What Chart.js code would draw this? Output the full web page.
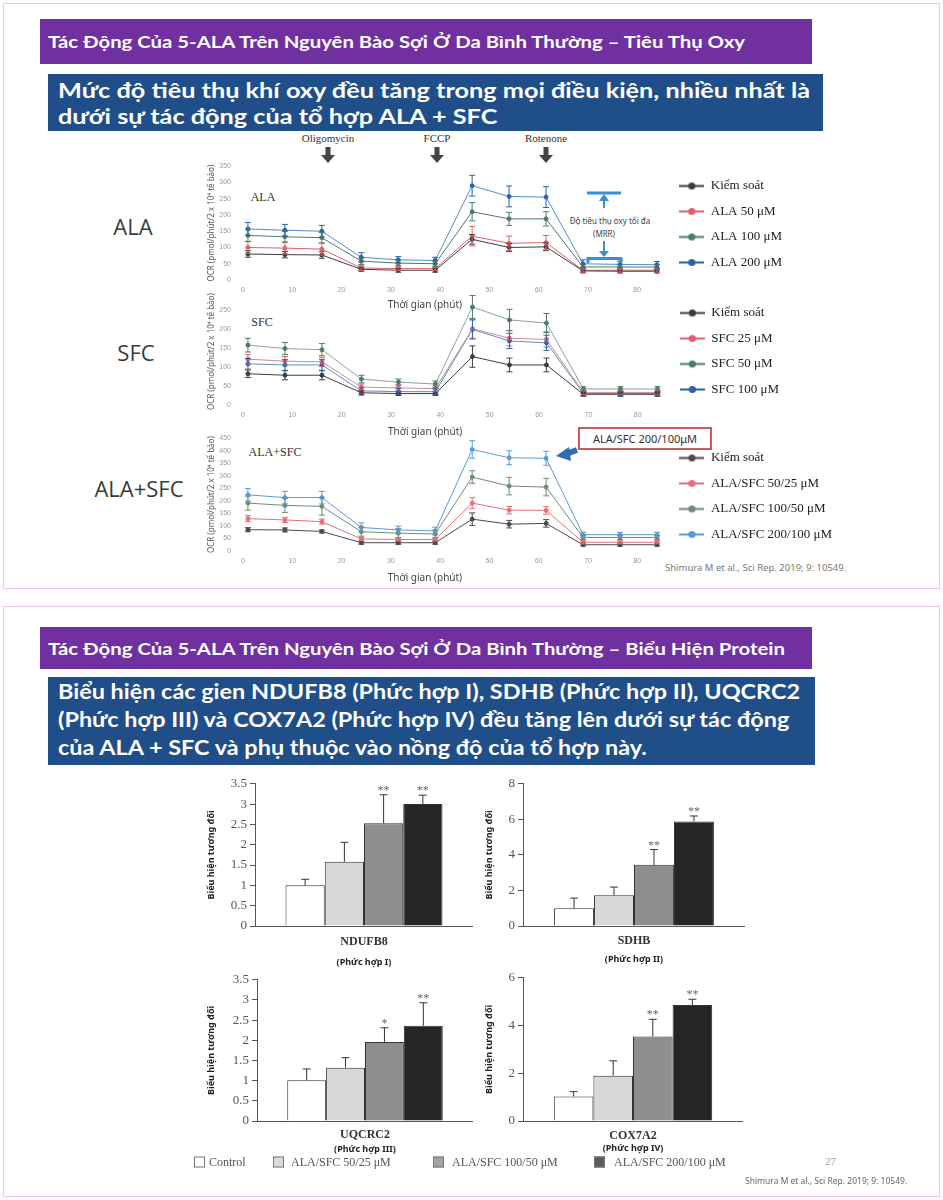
<!DOCTYPE html>
<html><head><meta charset="utf-8">
<script src="https://cdn.jsdelivr.net/npm/chart.js@4.4.1/dist/chart.umd.min.js"></script>
<style>
body{margin:0;background:#fff;width:943px;height:1200px;position:relative;overflow:hidden;font-family:Lato,"Noto Sans",sans-serif;}
.abs{position:absolute;}
.slide{position:absolute;border:1px solid #eec6ef;box-sizing:border-box;}
.purple{position:absolute;background:#7030a0;color:#fff;font-weight:bold;font-size:17px;white-space:nowrap;display:flex;align-items:center;}
.blue{position:absolute;background:#1f4e89;color:#fff;font-weight:bold;white-space:nowrap;}
.fit{display:inline-block;transform-origin:left center;white-space:nowrap;}
.side{position:absolute;font-family:"Open Sans",sans-serif;font-size:22px;color:#3a3a3a;transform:translate(-50%,-50%);white-space:nowrap;}
.ser{position:absolute;font-family:"Liberation Serif",serif;color:#333;white-space:nowrap;transform:translate(-50%,-50%);}
canvas{position:absolute;}
.lg{position:absolute;font-family:"Liberation Serif",serif;font-size:12px;color:#555;white-space:nowrap;transform:translateY(-50%);}
.sq{position:absolute;width:9px;height:9px;border:1px solid #777;transform:translateY(-50%);}
</style></head>
<body>
<div class="slide" style="left:3px;top:3px;width:937px;height:586px"></div>
<div class="slide" style="left:3px;top:606px;width:937px;height:591px"></div>

<div class="purple" style="left:40px;top:19px;width:772px;height:45px;padding-left:8px;box-sizing:border-box"><span class="fit" id="h1" data-w="697">Tác Động Của 5-ALA Trên Nguyên Bào Sợi Ở Da Bình Thường – Tiêu Thụ Oxy</span></div>
<div class="blue" style="left:48px;top:74px;width:775px;height:57px;padding:3px 0 0 10px;box-sizing:border-box;font-size:21px;line-height:26px">
<div class="fit" id="b1" data-w="752">Mức độ tiêu thụ khí oxy đều tăng trong mọi điều kiện, nhiều nhất là<br>dưới sự tác động của tổ hợp ALA + SFC</div></div>

<div class="purple" style="left:40px;top:627px;width:772px;height:42px;padding-left:8px;box-sizing:border-box"><span class="fit" id="h2" data-w="737">Tác Động Của 5-ALA Trên Nguyên Bào Sợi Ở Da Bình Thường – Biểu Hiện Protein</span></div>
<div class="blue" style="left:48px;top:677px;width:767px;height:88px;padding:0 0 0 10px;box-sizing:border-box;font-size:20px;line-height:28px">
<div class="fit" id="b2" data-w="742">Biểu hiện các gien NDUFB8 (Phức hợp I), SDHB (Phức hợp II), UQCRC2<br>(Phức hợp III) và COX7A2 (Phức hợp IV) đều tăng lên dưới sự tác động<br>của ALA + SFC và phụ thuộc vào nồng độ của tổ hợp này.</div></div>

<div class="side" style="left:133px;top:226px">ALA</div>
<div class="side" style="left:136px;top:352px">SFC</div>
<div class="side" style="left:139px;top:488px">ALA+SFC</div>

<div class="ser" style="left:328px;top:138px;font-size:11px">Oligomycin</div>
<div class="ser" style="left:437px;top:138px;font-size:11px">FCCP</div>
<div class="ser" style="left:546px;top:138px;font-size:11px">Rotenone</div>

<div class="ser" style="left:263px;top:197px;font-size:12px">ALA</div>
<div class="ser" style="left:262px;top:322px;font-size:12px">SFC</div>
<div class="ser" style="left:275px;top:452px;font-size:12px">ALA+SFC</div>

<div class="abs" style="left:610px;top:220px;transform:translate(-50%,-50%);font-size:8px;color:#444;font-family:'Noto Sans',sans-serif;white-space:nowrap">Độ tiêu thụ oxy tối đa</div>
<div class="abs" style="left:604px;top:233px;transform:translate(-50%,-50%);font-size:8px;color:#444;font-family:'Noto Sans',sans-serif;white-space:nowrap">(MRR)</div>

<div class="abs" style="left:578px;top:427px;width:134px;height:23px;border:2px solid #c55a5f;box-sizing:border-box;font-family:'Noto Sans',sans-serif;font-size:11px;color:#333;display:flex;align-items:center;justify-content:center;white-space:nowrap">ALA/SFC 200/100μM</div>

<div class="abs" style="left:665px;top:567px;transform:translateY(-50%);font-size:9.5px;color:#777;font-family:'Noto Sans',sans-serif;white-space:nowrap">Shimura M et al., Sci Rep. 2019; 9: 10549.</div>

<canvas id="c1"></canvas>
<canvas id="c2"></canvas>
<canvas id="c3"></canvas>
<canvas id="b_nd"></canvas>
<canvas id="b_sd"></canvas>
<canvas id="b_uq"></canvas>
<canvas id="b_cx"></canvas>

<svg class="abs" style="left:0;top:0" width="943" height="1200">
 <g fill="#444">
  <rect x="325.5" y="147" width="5" height="8"/><polygon points="321,155 335,155 328,163"/>
  <rect x="434.5" y="147" width="5" height="8"/><polygon points="430,155 444,155 437,163"/>
  <rect x="543.5" y="147" width="5" height="8"/><polygon points="539,155 553,155 546,163"/>
 </g>
 <g stroke="#3b8fd0" fill="none">
  <line x1="587" y1="193" x2="621" y2="193" stroke-width="3"/>
  <line x1="604" y1="197" x2="604" y2="208" stroke-width="2"/>
  <line x1="604" y1="241" x2="604" y2="254" stroke-width="2"/>
  <polyline points="588,263 588,258.5 621,258.5 621,263" stroke-width="3"/>
 </g>
 <g fill="#3b8fd0">
  <polygon points="599,201 609,201 604,194"/>
  <polygon points="599,251 609,251 604,257"/>
 </g>
 <g>
  <line x1="577" y1="450" x2="566" y2="454" stroke="#2e6db5" stroke-width="6"/>
  <polygon points="569,447 571,461 556,456" fill="#2e6db5"/>
 </g>
</svg>

<div class="sq" style="left:194px;top:1162px;background:#fff"></div><div class="lg" style="left:209px;top:1162px">Control</div>
<div class="sq" style="left:273px;top:1162px;background:#dcdcdc"></div><div class="lg" style="left:291px;top:1162px">ALA/SFC 50/25 μM</div>
<div class="sq" style="left:433px;top:1162px;background:#a3a3a3"></div><div class="lg" style="left:452px;top:1162px">ALA/SFC 100/50 μM</div>
<div class="sq" style="left:594px;top:1162px;background:#5c5c5c"></div><div class="lg" style="left:614px;top:1162px">ALA/SFC 200/100 μM</div>
<div class="abs" style="left:825px;top:1161px;transform:translateY(-50%);font-family:'Liberation Serif',serif;font-size:11px;color:#999">27</div>
<div class="abs" style="left:745px;top:1180px;transform:translateY(-50%);font-size:8.5px;color:#666;font-family:'Noto Sans',sans-serif;white-space:nowrap">Shimura M et al., Sci Rep. 2019; 9: 10549.</div>

<script>
// ---------- DATA ----------
const timeMin = [1, 8.5, 16, 24, 31.5, 39, 46.5, 54, 61.5, 69, 76.5, 84];
const xTicks = [0, 10, 20, 30, 40, 50, 60, 70, 80];

const alaLabels = ['Kiểm soát', 'ALA 50 μM', 'ALA 100 μM', 'ALA 200 μM'];
const alaControl = [80, 78, 77, 33, 30, 30, 125, 100, 102, 28, 27, 27];
const alaControlErr = [10, 10, 10, 6, 6, 6, 15, 12, 12, 6, 5, 5];
const ala50 = [100, 98, 95, 37, 35, 35, 135, 113, 115, 30, 30, 30];
const ala50Err = [18, 18, 18, 8, 6, 6, 30, 22, 22, 6, 6, 6];
const ala100 = [137, 133, 130, 58, 52, 50, 210, 188, 188, 40, 40, 40];
const ala100Err = [18, 16, 16, 10, 8, 8, 28, 20, 22, 8, 8, 8];
const ala200 = [157, 153, 150, 70, 62, 60, 290, 257, 255, 50, 48, 47];
const ala200Err = [20, 18, 18, 14, 10, 10, 32, 32, 32, 12, 10, 10];

const sfcLabels = ['Kiểm soát', 'SFC 25 μM', 'SFC 50 μM', 'SFC 100 μM'];
const sfcControl = [82, 78, 78, 32, 30, 30, 127, 105, 105, 28, 28, 28];
const sfcControlErr = [10, 12, 12, 6, 5, 5, 28, 18, 18, 5, 5, 5];
const sfc25 = [120, 115, 113, 47, 45, 43, 200, 175, 172, 33, 33, 33];
const sfc25Err = [12, 12, 12, 8, 8, 8, 25, 20, 20, 6, 6, 6];
const sfc50 = [157, 148, 145, 68, 60, 55, 257, 223, 215, 42, 42, 42];
const sfc50Err = [18, 16, 16, 10, 8, 8, 30, 28, 25, 6, 6, 6];
const sfc100 = [108, 105, 105, 37, 35, 35, 198, 168, 163, 30, 30, 30];
const sfc100Err = [14, 14, 14, 8, 8, 8, 25, 20, 20, 6, 6, 6];

const comboLabels = ['Kiểm soát', 'ALA/SFC 50/25 μM', 'ALA/SFC 100/50 μM', 'ALA/SFC 200/100 μM'];
const comboControl = [85, 84, 78, 33, 33, 33, 127, 107, 110, 25, 25, 25];
const comboControlErr = [8, 8, 6, 6, 6, 6, 25, 15, 15, 5, 5, 5];
const combo50 = [129, 124, 117, 48, 46, 46, 191, 163, 162, 35, 35, 35];
const combo50Err = [12, 10, 10, 6, 6, 6, 22, 15, 15, 6, 6, 6];
const combo100 = [191, 182, 178, 77, 71, 68, 295, 259, 255, 54, 54, 54];
const combo100Err = [28, 28, 35, 18, 18, 15, 25, 35, 35, 8, 8, 8];
const combo200 = [224, 213, 213, 94, 84, 80, 405, 372, 370, 65, 65, 65];
const combo200Err = [25, 25, 25, 18, 15, 15, 35, 28, 28, 10, 10, 10];

const barGroups = ['Control', 'ALA/SFC 50/25 μM', 'ALA/SFC 100/50 μM', 'ALA/SFC 200/100 μM'];
const ndufb8 = [1.0, 1.58, 2.53, 3.0];
const ndufb8Err = [0.15, 0.48, 0.7, 0.22];
const ndufb8Stars = ['', '', '**', '**'];
const sdhb = [1.0, 1.73, 3.44, 5.88];
const sdhbErr = [0.57, 0.46, 0.86, 0.31];
const sdhbStars = ['', '', '**', '**'];
const uqcrc2 = [1.01, 1.32, 1.96, 2.36];
const uqcrc2Err = [0.28, 0.25, 0.35, 0.57];
const uqcrc2Stars = ['', '', '*', '**'];
const cox7a2 = [1.03, 1.9, 3.54, 4.86];
const cox7a2Err = [0.2, 0.62, 0.72, 0.24];
const cox7a2Stars = ['', '', '**', '**'];

// ---------- helpers ----------
document.querySelectorAll('.fit').forEach(el => {
  const w = el.getBoundingClientRect().width;
  el.style.transform = 'scaleX(' + (parseFloat(el.dataset.w) / w) + ')';
});
['b1', 'b2'].forEach(id => {
  const el = document.getElementById(id);
  el.style.transform = 'none';
  const first = el.innerHTML.split('<br>')[0];
  const s = document.createElement('span'); s.style.cssText = 'position:absolute;visibility:hidden;white-space:nowrap;font:inherit';
  s.innerHTML = first; el.appendChild(s);
  const w = s.getBoundingClientRect().width; el.removeChild(s);
  el.style.transform = 'scaleX(' + (parseFloat(el.dataset.w) / w) + ')';
});

function markerImg(color) {
  const c = document.createElement('canvas'); c.width = 25; c.height = 9;
  const g = c.getContext('2d');
  g.strokeStyle = color; g.lineWidth = 2; g.beginPath(); g.moveTo(0, 4.5); g.lineTo(25, 4.5); g.stroke();
  g.fillStyle = color; g.beginPath(); g.arc(12.5, 4.5, 3.6, 0, Math.PI * 2); g.fill();
  return c;
}
function textW(labels, font) {
  const g = document.createElement('canvas').getContext('2d'); g.font = font;
  return Math.max(...labels.map(l => g.measureText(l).width));
}

const errorBarPlugin = {
  id: 'errorBars',
  afterDatasetsDraw(chart) {
    const ctx = chart.ctx; const ys = chart.scales.y;
    chart.data.datasets.forEach((ds, i) => {
      if (!ds.errorBars) return;
      const meta = chart.getDatasetMeta(i);
      ctx.save(); ctx.strokeStyle = ds.errorColor || ds.borderColor; ctx.lineWidth = 1;
      meta.data.forEach((el, j) => {
        const v = ds.data[j]; const val = (typeof v === 'object') ? v.y : v; const e = ds.errorBars[j];
        const x = el.x; const top = ys.getPixelForValue(val + e);
        const bot = ds.errorMode === 'up' ? ys.getPixelForValue(val) : ys.getPixelForValue(val - e);
        const cap = ds.errorCap || 3;
        ctx.beginPath(); ctx.moveTo(x, top); ctx.lineTo(x, bot);
        ctx.moveTo(x - cap, top); ctx.lineTo(x + cap, top);
        if (ds.errorMode !== 'up') { ctx.moveTo(x - cap, bot); ctx.lineTo(x + cap, bot); }
        ctx.stroke();
        if (ds.stars && ds.stars[j]) {
          ctx.fillStyle = '#666'; ctx.font = "12px 'Liberation Serif'"; ctx.textAlign = 'center'; ctx.textBaseline = 'alphabetic';
          ctx.fillText(ds.stars[j], x, top - 1);
        }
      });
      ctx.restore();
    });
  }
};

function lineDs(label, vals, errs, color, lineColor) {
  return {
    label, data: timeMin.map((t, i) => ({ x: t, y: vals[i] })), errorBars: errs,
    borderColor: lineColor || color, backgroundColor: color, pointBackgroundColor: color, pointBorderColor: color,
    errorColor: color, legendColor: color,
    borderWidth: 1, pointRadius: 2, pointHoverRadius: 2, errorCap: 3, tension: 0
  };
}

// g: {top, height, padTop, xH, legendGap}
function makeLine(id, g, datasets, yMax) {
  const labels = datasets.map(d => d.label);
  const lw = 12.5 + 25 + 6.5 + textW(labels, "13px 'Liberation Serif'") + 10;
  const width = Math.round(470 + lw + 2);
  const cv = document.getElementById(id);
  cv.width = width; cv.height = g.height; cv.style.left = '195px'; cv.style.top = g.top + 'px';
  return new Chart(cv, {
    type: 'line',
    data: { datasets },
    plugins: [errorBarPlugin],
    options: {
      responsive: false, animation: false, devicePixelRatio: 1,
      layout: { padding: { top: g.padTop, right: 0, left: 0, bottom: 0 } },
      plugins: {
        tooltip: { enabled: false },
        legend: {
          position: 'right', align: 'start', maxWidth: 400,
          title: { display: true, text: ' ', font: { size: 1 }, padding: { top: g.legendGap, bottom: 0 } },
          labels: {
            usePointStyle: true, pointStyleWidth: 25, boxHeight: 9, padding: 12.5,
            color: '#222', font: { family: "'Liberation Serif', serif", size: 13 },
            generateLabels(chart) {
              return chart.data.datasets.map((d, i) => ({
                text: d.label, pointStyle: markerImg(d.legendColor), fillStyle: d.legendColor,
                strokeStyle: d.legendColor, lineWidth: 0, hidden: false, datasetIndex: i, fontColor: '#222'
              }));
            }
          }
        }
      },
      scales: {
        x: {
          type: 'linear', min: 0, max: 86,
          afterBuildTicks(s) { s.ticks = xTicks.map(v => ({ value: v })); },
          ticks: { font: { size: 7 }, color: '#999', padding: 6, maxRotation: 0 },
          grid: { display: false, drawTicks: false }, border: { display: false },
          title: { display: true, text: 'Thời gian (phút)' + '\u2002'.repeat(12), color: '#444', font: { family: "'Noto Sans', sans-serif", size: 10 }, padding: { top: 0, bottom: 2 } },
          afterFit(s) { s.height = g.xH; }
        },
        y: {
          min: 0, max: yMax,
          afterBuildTicks(s) { const t = []; for (let v = 0; v <= yMax; v += 50) t.push({ value: v }); s.ticks = t; },
          ticks: { font: { size: 7 }, color: '#999', padding: 4 },
          grid: { display: false }, border: { display: false },
          title: { display: true, text: 'OCR (pmol/phút/2 x 10⁴ tế bào)', color: '#555', font: { family: "'Noto Sans', sans-serif", size: 8 }, padding: { top: 12, bottom: 0 } },
          afterFit(s) { s.width = 48; }
        }
      }
    }
  });
}

makeLine('c1', { top: 158, height: 155, padTop: 5, xH: 33, legendGap: 2.8 }, [
  lineDs(alaLabels[0], alaControl, alaControlErr, '#3d3d3d'),
  lineDs(alaLabels[1], ala50, ala50Err, '#e0606e'),
  lineDs(alaLabels[2], ala100, ala100Err, '#4d7c64'),
  lineDs(alaLabels[3], ala200, ala200Err, '#2b62ad', '#4f8fcb')
], 350);

makeLine('c2', { top: 290, height: 150, padTop: 1, xH: 35, legendGap: 1.8 }, [
  lineDs(sfcLabels[0], sfcControl, sfcControlErr, '#3d3d3d'),
  lineDs(sfcLabels[1], sfc25, sfc25Err, '#e0606e', '#c98e95'),
  lineDs(sfcLabels[2], sfc50, sfc50Err, '#4d7c64', '#8aa596'),
  lineDs(sfcLabels[3], sfc100, sfc100Err, '#2b62ad', '#5f8fc0')
], 280);

makeLine('c3', { top: 430, height: 156, padTop: 5, xH: 35, legendGap: 2.8 }, [
  lineDs(comboLabels[0], comboControl, comboControlErr, '#4a4a4a'),
  lineDs(comboLabels[1], combo50, combo50Err, '#e7707a'),
  lineDs(comboLabels[2], combo100, combo100Err, '#6f8a78'),
  lineDs(comboLabels[3], combo200, combo200Err, '#5a9ad8')
], 450);

// ---------- bar charts ----------
const barFill = ['#ffffff', '#d8d8d8', '#8e8e8e', '#262626'];
function makeBar(id, left, top, width, height, name, sub, vals, errs, stars, yMax, yStep, yWidth, yTitlePad, xHeight, tickPad) {
  const cv = document.getElementById(id);
  cv.width = width; cv.height = height; cv.style.left = left + 'px'; cv.style.top = top + 'px';
  return new Chart(cv, {
    type: 'bar',
    data: {
      labels: [name],
      datasets: barGroups.map((g, i) => ({
        label: g, data: [vals[i]], errorBars: [errs[i]], stars: [stars[i]], errorMode: 'up', errorCap: 4,
        errorColor: '#333', backgroundColor: barFill[i], borderColor: '#333', borderWidth: 1,
        categoryPercentage: 0.72, barPercentage: 1.0
      }))
    },
    plugins: [errorBarPlugin],
    options: {
      responsive: false, animation: false, devicePixelRatio: 1,
      layout: { padding: { top: 0, right: 0, left: 0, bottom: 0 } },
      plugins: { legend: { display: false }, tooltip: { enabled: false } },
      scales: {
        x: {
          ticks: { font: { family: "'Liberation Serif', serif", size: 12, weight: 'bold' }, color: '#333', padding: tickPad },
          grid: { display: false, drawTicks: false }, border: { display: true, color: '#555', width: 1 },
          title: { display: true, text: sub, color: '#222', font: { family: "'Noto Sans', sans-serif", size: 9, weight: 'bold' }, padding: { top: 0, bottom: 2 } },
          afterFit(s) { s.height = xHeight; }
        },
        y: {
          min: 0, max: yMax,
          ticks: { stepSize: yStep, font: { family: "'Liberation Serif', serif", size: 13 }, color: '#555', padding: 3, callback: v => String(v) },
          grid: { drawOnChartArea: false, drawTicks: true, tickLength: 5, color: '#555' },
          border: { display: true, color: '#555', width: 1 },
          title: { display: true, text: 'Biểu hiện tương đối', color: '#222', font: { family: "'Noto Sans', sans-serif", size: 9, weight: 'bold' }, padding: { top: yTitlePad, bottom: 0 } },
          afterFit(s) { s.width = yWidth; }
        }
      }
    }
  });
}

makeBar('b_nd', 200, 773, 273, 197, 'NDUFB8', '(Phức hợp I)', ndufb8, ndufb8Err, ndufb8Stars, 3.5, 0.5, 55, 6, 44, 9);
makeBar('b_sd', 470, 773, 275, 194, 'SDHB', '(Phức hợp II)', sdhb, sdhbErr, sdhbStars, 8, 2, 53, 14, 41, 8);
makeBar('b_uq', 200, 969, 273, 188, 'UQCRC2', '(Phức hợp III)', uqcrc2, uqcrc2Err, uqcrc2Stars, 3.5, 0.5, 57, 6, 36, 7);
makeBar('b_cx', 470, 967, 273, 189, 'COX7A2', '(Phức hợp IV)', cox7a2, cox7a2Err, cox7a2Stars, 6, 2, 53, 14, 35, 8);
</script>
</body></html>
